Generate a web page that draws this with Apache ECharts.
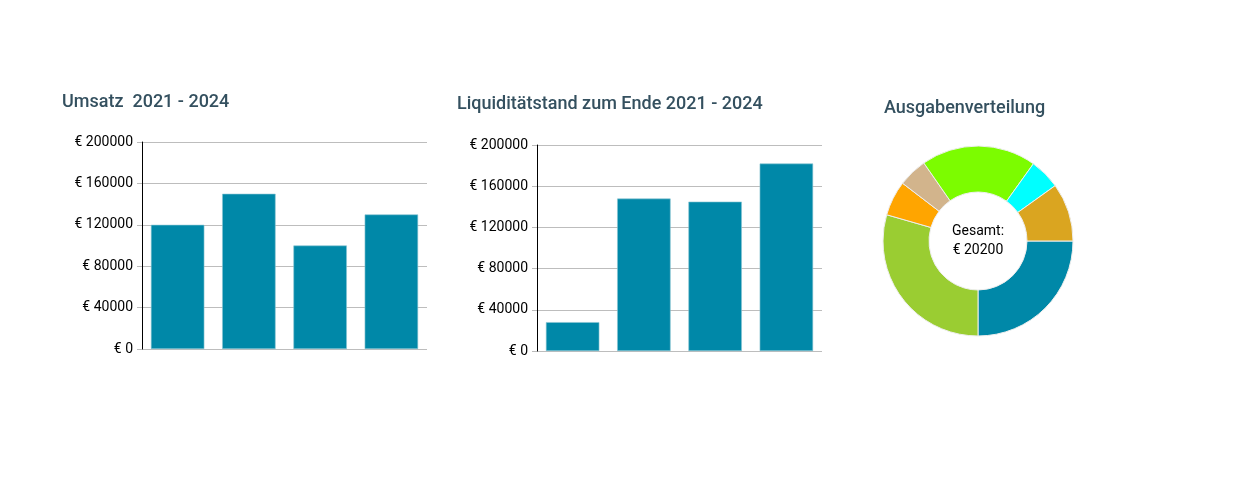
<!DOCTYPE html>
<html>
<head>
<meta charset="utf-8">
<script src="https://cdn.jsdelivr.net/npm/echarts@6/dist/echarts.min.js"></script>
<style>
html,body{margin:0;padding:0;background:#fff;}
#c{width:1252px;height:496px;}
</style>
</head>
<body>
<div id="c"></div>
<script>
const years = ['2021', '2022', '2023', '2024'];
const umsatz = [120000, 150000, 100000, 130000];
const liquiditaet = [28000, 148000, 145000, 182000];
const yTicks = [0, 40000, 80000, 120000, 160000, 200000];
const ausgabenNamen = ['A', 'B', 'C', 'D', 'E', 'F', 'G'];
const ausgabenWerte = [5050, 5950, 1200, 1000, 3950, 1050, 2000];
const ausgabenFarben = ['#0088a8', '#9acd32', '#ffa500', '#d2b48c', '#7cfc00', '#00ffff', '#daa520'];
const gesamt = 20200;

const titleColor = '#34505f';
const barColor = '#0088a8';
const font = 'Roboto';

function yAxis(gi) {
  return {
    type: 'value', gridIndex: gi, min: yTicks[0], max: yTicks[yTicks.length - 1],
    interval: yTicks[1] - yTicks[0],
    axisLine: { show: true, lineStyle: { color: '#000', width: 1 } },
    axisTick: { show: true, length: 5, lineStyle: { color: '#bbb' } },
    axisLabel: { color: '#000', fontFamily: font, fontSize: 14, margin: 9,
      formatter: v => '€ ' + v },
    splitLine: { show: true, lineStyle: { color: '#bdbdbd', width: 1 } }
  };
}
function xAxis(gi) {
  return {
    type: 'category', gridIndex: gi, data: years,
    axisLine: { show: false }, axisTick: { show: false }, axisLabel: { show: false }
  };
}

const ts = { color: titleColor, fontFamily: font, fontSize: 18, fontWeight: 500 };
const chart = echarts.init(document.getElementById('c'), null, { renderer: 'canvas' });
chart.setOption({
  backgroundColor: '#fff',
  animation: false,
  title: [
    { text: 'Umsatz  2021 - 2024', left: 62, top: 93, padding: 0, textStyle: ts },
    { text: 'Liquiditätstand zum Ende 2021 - 2024', left: 457, top: 95, padding: 0, textStyle: ts },
    { text: 'Ausgabenverteilung', left: 884, top: 99, padding: 0, textStyle: ts },
    { text: 'Gesamt:\n€ ' + gesamt, left: 978, top: 222, padding: 0, textAlign: 'center',
      textStyle: { color: '#000', fontFamily: font, fontSize: 14, fontWeight: 'normal', lineHeight: 19 } }
  ],
  grid: [
    { left: 142, top: 142, width: 285, height: 207 },
    { left: 537, top: 145, width: 285, height: 206 }
  ],
  xAxis: [xAxis(0), xAxis(1)],
  yAxis: [yAxis(0), yAxis(1)],
  series: [
    { type: 'bar', xAxisIndex: 0, yAxisIndex: 0, data: umsatz, barCategoryGap: '25%',
      itemStyle: { color: barColor, borderColor: '#8cc6d4', borderWidth: 0.6 } },
    { type: 'bar', xAxisIndex: 1, yAxisIndex: 1, data: liquiditaet, barCategoryGap: '25%',
      itemStyle: { color: barColor, borderColor: '#8cc6d4', borderWidth: 0.6 } },
    { type: 'pie', center: [978, 241], radius: [49, 95], startAngle: 0, clockwise: true,
      label: { show: false }, labelLine: { show: false }, silent: true,
      itemStyle: { borderColor: '#eee', borderWidth: 1 },
      data: ausgabenNamen.map((n, i) => ({ name: n, value: ausgabenWerte[i], itemStyle: { color: ausgabenFarben[i] } })) }
  ]
});
</script>
</body>
</html>
